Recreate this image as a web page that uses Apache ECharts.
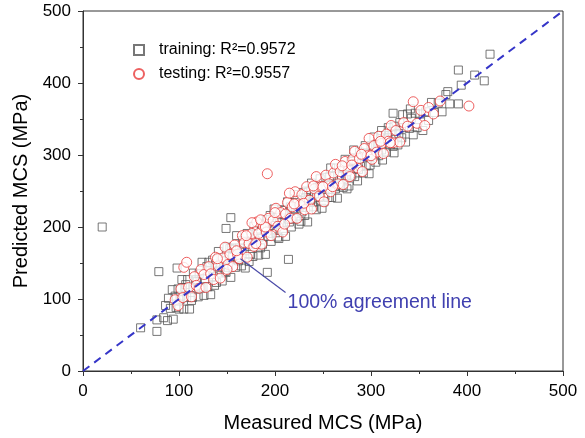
<!DOCTYPE html>
<html><head><meta charset="utf-8">
<script src="https://cdn.jsdelivr.net/npm/echarts@6/dist/echarts.min.js"></script>
<style>html,body{margin:0;padding:0;background:#fff}#c{width:585px;height:438px}</style>
</head><body><div id="c"></div>
<script>
const trainingName = 'training: R²=0.9572';
const testingName = 'testing: R²=0.9557';
const xTicks = [0, 100, 200, 300, 400, 500];
const agreementLine = [[0, 0], [500, 500]];
const arrowFromTo = [[211, 109], [164, 156]];
const training = [
[84,74],[86,91],[88,70],[89,101],[91,87],[93,113],[94,72],[96,104],[97,88],[99,114],[100,86],[102,104],[103,127],[105,86],[106,116],[108,102],[109,127],[111,86],[112,116],[114,102],[115,136],[117,114],[118,127],[120,103],[121,135],[123,115],[124,151],[126,105],[127,128],[129,145],[130,117],[132,139],[133,106],[135,154],[136,131],[138,149],[139,123],[141,166],[142,140],[144,157],[145,125],[147,153],[148,138],[150,172],[151,144],[153,170],[154,130],[156,159],[157,169],[159,144],[160,188],[162,153],[163,171],[165,146],[166,181],[168,167],[169,143],[171,191],[172,177],[174,162],[175,185],[177,159],[178,201],[180,176],[181,195],[183,161],[184,186],[186,204],[187,176],[189,196],[190,162],[192,205],[193,187],[195,216],[196,180],[198,202],[199,225],[201,192],[202,213],[204,184],[205,206],[207,224],[208,195],[210,218],[211,187],[213,235],[214,211],[216,228],[217,200],[219,225],[220,245],[222,212],[223,238],[225,204],[226,229],[228,221],[229,248],[231,216],[232,241],[234,207],[235,249],[237,235],[238,261],[240,228],[241,246],[243,224],[244,255],[246,241],[247,267],[249,226],[250,257],[252,243],[253,269],[255,241],[256,258],[258,282],[259,241],[261,271],[262,256],[264,282],[265,240],[267,271],[268,257],[270,284],[271,255],[273,294],[274,271],[276,284],[277,257],[279,291],[280,272],[282,307],[283,270],[285,288],[286,264],[288,304],[289,284],[291,300],[292,275],[294,313],[295,285],[297,303],[298,274],[300,313],[302,300],[303,325],[305,290],[307,312],[308,299],[310,327],[312,293],[314,322],[316,304],[318,338],[320,314],[322,333],[324,303],[326,328],[328,314],[330,345],[332,324],[334,338],[336,318],[338,357],[340,337],[342,351],[344,328],[346,358],[348,338],[351,357],[354,334],[357,360],[360,348],[363,373],[366,359],[370,372],[374,360],[378,384],
[101,99],[107,120],[113,98],[119,124],[125,116],[131,151],[137,119],[143,144],[149,137],[155,171],[161,155],[167,176],[173,152],[179,182],[185,171],[191,210],[197,196],[203,186],[209,223],[215,207],[221,225],[227,208],[233,250],[239,234],[245,253],[251,235],[257,270],[263,253],[269,271],[275,253],[281,292],[287,280],[293,298],[299,286],[305,315],[311,307],[317,324],[323,312],[329,330],
[20,200],[60,60],[77,55],[77,71],[79,138],[98,143],[149,198],[154,213],[192,137],[214,155],[380,388],[382,371],[391,371],[394,397],[391,418],[408,411],[418,403],[424,440],[341,364],[333,356],[324,340],[323,358],[311,334]];
const testing = [
[96,99],[99,91],[102,114],[104,102],[105,144],[108,151],[110,116],[113,103],[116,131],[118,119],[121,115],[123,141],[126,134],[128,116],[131,145],[133,135],[136,127],[138,158],[141,146],[143,129],[146,157],[148,172],[151,148],[153,162],[156,145],[158,175],[161,162],[163,156],[166,188],[168,178],[171,158],[173,177],[176,191],[178,173],[181,207],[183,191],[186,176],[188,201],[191,193],[192,274],[193,212],[196,188],[198,209],[201,226],[203,201],[206,220],[208,193],[211,218],[213,234],[216,212],[218,228],[221,249],[223,212],[226,231],[228,245],[231,224],[233,256],[236,237],[238,225],[241,253],[243,270],[246,243],[248,256],[251,235],[253,272],[256,260],[258,249],[261,275],[263,287],[266,260],[268,277],[271,259],[273,291],[276,278],[278,270],[281,294],[283,305],[286,282],[288,295],[291,277],[293,309],[296,299],[298,323],[301,294],[303,313],[306,304],[308,326],[311,316],[313,302],[316,329],[318,319],[321,341],[323,317],[326,334],[330,318],[334,345],[338,340],[344,374],[348,344],[352,362],[356,341],[360,366],[365,357],[372,375],[402,368],
[140,156],[150,141],[160,167],[170,188],[180,177],[190,200],[200,220],[210,204],[220,232],[230,233],[240,257],[250,256],[260,256],[270,285],[280,286],[290,301],[300,299],[310,319],[320,317],[176,206],[215,247],[185,210]];

const chart = echarts.init(document.getElementById('c'));
const F = 'Liberation Sans, Arial, sans-serif';
const axisCommon = {
  min: 0, max: 500, interval: 100,
  axisLine: {show: true, lineStyle: {color: '#333', width: 1}},
  axisTick: {show: true, inside: false, length: 5, lineStyle: {color: '#333'}},
  minorTick: {show: true, splitNumber: 2, length: 3, lineStyle: {color: '#333'}},
  splitLine: {show: false},
  axisLabel: {color: '#000', fontSize: 17, fontFamily: F, margin: 12},
  nameLocation: 'middle',
  nameTextStyle: {color: '#000', fontSize: 20, fontFamily: F}
};
chart.setOption({
  animation: false,
  grid: {left: 83, right: 22, top: 11, bottom: 67, show: true, borderColor: '#333', borderWidth: 1},
  xAxis: Object.assign({}, axisCommon, {type: 'value', name: 'Measured MCS (MPa)', nameGap: 42}),
  yAxis: Object.assign({}, axisCommon, {type: 'value', name: 'Predicted MCS (MPa)', nameGap: 52}),
  legend: {
    orient: 'vertical', left: 128, top: 37, itemWidth: 10, itemHeight: 10, itemGap: 8,
    textStyle: {fontSize: 16, fontFamily: F, color: '#000', padding: [0, 0, 0, 10]},
    data: [trainingName, testingName]
  },
  series: [
    {name: trainingName, type: 'scatter', data: training, symbol: 'rect', symbolSize: 8,
     itemStyle: {color: 'rgba(0,0,0,0)', borderColor: '#555', borderWidth: 1}, z: 2},
    {name: testingName, type: 'scatter', data: testing, symbol: 'circle', symbolSize: 10,
     itemStyle: {color: '#fff', borderColor: '#e83a3a', borderWidth: 1}, z: 3},
    {name: 'agreement', type: 'line', data: agreementLine, symbol: 'none', z: 4,
     lineStyle: {color: '#3535c8', width: 2, type: [8, 6]}},
    {name: 'arrow', type: 'line', data: arrowFromTo, symbol: ['none', 'arrow'], showSymbol: false, z: 5,
     lineStyle: {color: '#4a4aa8', width: 1.2}}
  ]
});
const p = chart.convertToPixel({gridIndex: 0}, arrowFromTo[0]);
chart.setOption({graphic: [{type: 'text', left: p[0] + 2, top: p[1],
  style: {text: '100% agreement line', fontSize: 19.5, fontFamily: F, fill: '#4040b0'}}]});
</script></body></html>
